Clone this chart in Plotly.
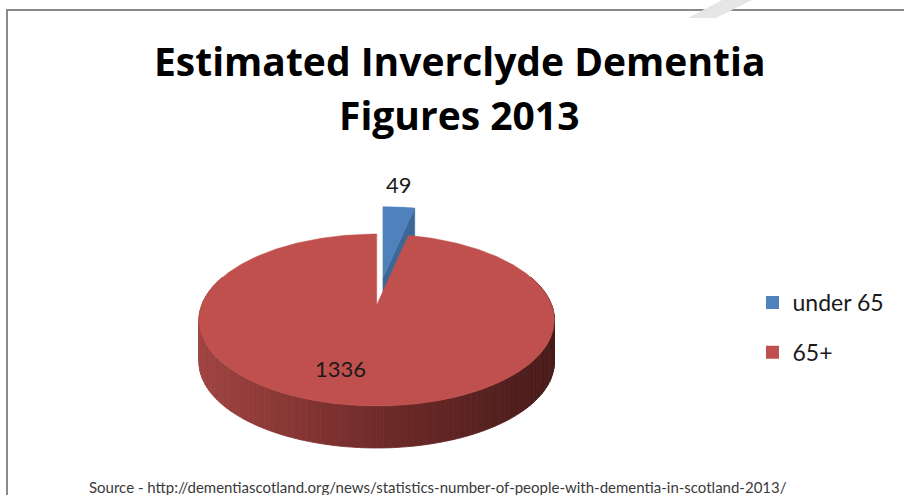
import numpy as np
import plotly.graph_objects as go

# ---------------- data ----------------
categories = ["under 65", "65+"]
values = [49, 1336]
slice_colors = ["#4F81BD", "#C0504D"]
title_lines = ["Estimated Inverclyde Dementia", "Figures 2013"]
source_note = ("Source - http://dementiascotland.org/news/"
               "statistics-number-of-people-with-dementia-in-scotland-2013/")

# ---------------- 3-D pie geometry (pixel space) ----------------
W, H = 904, 495
CX, CY = 376.7, 305.0          # centre of the top face
RX = 175.0                     # horizontal radius
RY_LIN, RY_QUAD = 86.0, 15.0   # vertical foreshortening, front nearer the eye
PERSP = 0.18                   # width growth towards the front
DEPTH = 42.0                   # thickness of the disc
EXPLODE = 0.32                 # pull-out of the first slice (fraction of radius)

SIDE_STOPS = [(0.0, (160, 68, 66)), (0.5, (112, 43, 41)), (1.0, (72, 27, 27))]
BLUE_SIDE = "#3C6797"


def project(theta_deg, r=1.0):
    """theta measured clockwise from 12 o'clock, r in unit-radius."""
    t = np.radians(theta_deg)
    u = r * np.sin(t)
    w = -r * np.cos(t)
    x = CX + RX * u * (1 + PERSP * w)
    y = CY + RY_LIN * w + RY_QUAD * w * w
    return x, y


def side_colour(t):
    for (t0, c0), (t1, c1) in zip(SIDE_STOPS[:-1], SIDE_STOPS[1:]):
        if t <= t1:
            f = (t - t0) / (t1 - t0)
            c = [round(a + (b - a) * f) for a, b in zip(c0, c1)]
            return "rgb({},{},{})".format(*c)
    return "rgb({},{},{})".format(*SIDE_STOPS[-1][1])


total = sum(values)
spans = [v / total * 360.0 for v in values]
starts = np.concatenate([[0.0], np.cumsum(spans)[:-1]])

fig = go.Figure()


def poly(xs, ys, colour, width=0.0):
    fig.add_trace(go.Scatter(
        x=list(xs) + [xs[0]], y=list(ys) + [ys[0]],
        mode="lines", fill="toself", fillcolor=colour,
        line=dict(color=colour, width=width),
        hoverinfo="skip", showlegend=False))


# ---- first slice (exploded, drawn behind the big slice) ----
a0, a1 = starts[0], starts[0] + spans[0]
mid0 = (a0 + a1) / 2
dx = EXPLODE * RX * np.sin(np.radians(mid0))
dy = -EXPLODE * RY_LIN * np.cos(np.radians(mid0))
apex = (CX + dx, CY + dy)
arc = np.linspace(a0, a1, 40)
ax_, ay_ = project(arc)
ax_, ay_ = ax_ + dx, ay_ + dy
# radial face on the clockwise edge
poly([apex[0], ax_[-1], ax_[-1], apex[0]],
     [apex[1], ay_[-1], ay_[-1] + DEPTH, apex[1] + DEPTH], BLUE_SIDE, 0.5)
# top face
poly([apex[0]] + list(ax_), [apex[1]] + list(ay_), slice_colors[0], 0.5)

# ---- second slice: curved front wall with shading ----
b0, b1 = starts[1], starts[1] + spans[1]
edges = np.arange(70.0, 290.01, 2.0)
xmin, xmax = CX - RX * 1.02, CX + RX * 1.02
for i in range(len(edges) - 1):
    seg = np.linspace(edges[i], edges[i + 1], 4)
    tx, ty = project(seg)
    xs = list(tx) + list(tx[::-1])
    ys = list(ty + DEPTH) + list(ty[::-1])
    t = (np.mean(tx) - xmin) / (xmax - xmin)
    c = side_colour(min(max(t, 0), 1))
    poly(xs, ys, c, 0.8)

# ---- second slice: top face ----
arc = np.linspace(b0, b1, 360)
rx_, ry_ = project(arc)
poly([CX] + list(rx_), [CY] + list(ry_), slice_colors[1], 0.5)

# ---- legend entries ----
for name, colour in zip(categories, slice_colors):
    fig.add_trace(go.Scatter(
        x=[None], y=[None], mode="markers", name=name, legendgroup=name,
        marker=dict(symbol="square", size=13, color=colour)))

# ---- value labels ----
lx, ly = project(mid0)
fig.add_annotation(x=lx + dx, y=ly + dy, text=str(values[0]),
                   xanchor="center", yanchor="bottom", yshift=7,
                   showarrow=False, font=dict(family="Lato", size=22, color="#1a1a1a"))
mid1 = (b0 + b1) / 2
lx, ly = project(mid1 + 9.5, 0.71)
fig.add_annotation(x=lx + 2, y=ly - 2, text=str(values[1]),
                   xanchor="center", yanchor="middle",
                   showarrow=False, font=dict(family="Lato", size=22, color="#1a1a1a"))

# ---- title ----
for line, yc in zip(title_lines, [60, 114.5]):
    fig.add_annotation(x=459, y=yc, text=line, showarrow=False,
                       xanchor="center", yanchor="middle",
                       font=dict(family="Open Sans", size=39, weight=700, color="#000000"))

# ---- source note ----
fig.add_annotation(x=87, y=476, text=source_note, showarrow=False,
                   xanchor="left", yanchor="top",
                   font=dict(family="Lato", size=15, color="#3a3a3a"))

# ---- chart frame and corner smudge ----
fig.add_shape(type="rect", x0=7, y0=10, x1=W + 20, y1=H + 20,
              line=dict(color="#8a8a8a", width=2), fillcolor="rgba(0,0,0,0)",
              layer="below")
fig.add_shape(type="path", path="M 722 0 L 752 0 L 716 18 L 688 18 Z",
              line=dict(width=0), fillcolor="#e6e6e6", layer="below")

fig.update_layout(
    width=W, height=H,
    margin=dict(l=0, r=0, t=0, b=0),
    paper_bgcolor="white", plot_bgcolor="white",
    xaxis=dict(range=[0, W], visible=False, fixedrange=True),
    yaxis=dict(range=[H, 0], visible=False, fixedrange=True),
    showlegend=True,
    legend=dict(x=752.5 / W, y=1 - 281 / H, xanchor="left", yanchor="top",
                font=dict(family="Lato", size=23, color="#1a1a1a"),
                tracegroupgap=17, bgcolor="rgba(0,0,0,0)"),
)

fig.write_html("out.html")
